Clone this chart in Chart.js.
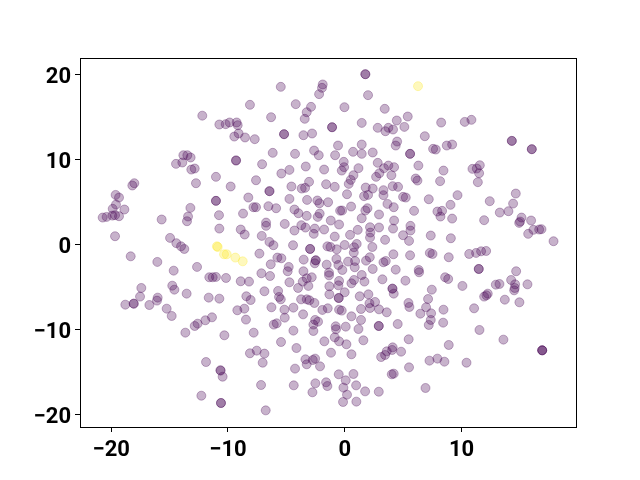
<!DOCTYPE html>
<html>
<head>
<meta charset="utf-8">
<script src="https://cdn.jsdelivr.net/npm/chart.js@4"></script>
<style>
  html, body { margin: 0; padding: 0; background: #fff; }
  canvas { display: block; }
</style>
</head>
<body>
<canvas id="tsne" width="640" height="480"></canvas>
<script>
// values, [x, y]. Repeats are the darker spots.
var purplePoints = [
  [-12.2,15.2],[-10.74,14.16],[-10.2,14.2],[-9.86,14.4],[-9.26,14.4],[-9.17,14.08],[-9.09,13.1],[-9.46,12.74],[-8.54,12.63],[-8.12,16.48],
  [-9.31,9.92],[-9.31,9.92],[-13.82,10.54],[-13.48,10.54],[-13.2,10.27],[-14.45,9.52],[-13.91,9.68],[-13.14,8.85],[-12.85,8.97],[-12.74,7.24],
  [-11.03,7.99],[-9.77,6.85],[-18.02,7.24],[-18.19,6.97],[-19.62,5.86],[-19.33,5.55],[-19.59,4.72],[-19.87,4.22],[-18.87,4.14],[-20.73,3.19],
  [-20.39,3.27],[-19.9,3.42],[-19.67,3.47],[-19.33,3.35],[-19.67,0.99],[-15.68,2.96],[-13.22,4.33],[-13.42,3.31],[-13.51,2.76],[-11.03,5.16],
  [-11.03,5.16],[-10.77,3.47],[-10.74,1.89],[-8.71,3.66],[-8.26,5.55],[-8.91,1.78],[-8.57,1.19],[-14.96,0.79],[-14.42,0.17],
  [-14.02,-0.2],[-13.74,-0.51],[-18.33,-1.38],[-16.05,-2.04],[-14.65,-3.07],[-12.65,-2.63],[-11.6,-3.85],[-11.31,-3.85],[-11.03,-3.81],[-10.17,-3.93],
  [-8.91,-4.32],[-8.2,-4.36],[-14.77,-4.84],[-14.59,-5.31],[-17.42,-5.11],[-13.54,-5.78],[-17.53,-6.13],[-16.02,-6.25],[-16.08,-6.6],[-11.65,-6.25],
  [-10.74,-6.37],[-8.43,-6.09],[-8.06,-6.53],[-18.79,-7.08],[-18.07,-6.96],[-18.07,-6.96],[-16.73,-7.12],[-15.25,-7.55],[-14.82,-8.41],[-9.2,-7.74],
  [-8.6,-7.55],[-8.46,-8.84],[-11.94,-8.92],[-11.37,-8.57],[-12.6,-9.32],[-12.85,-9.59],[-13.65,-10.38],[-10.31,-10.69],[-8.12,-12.81],[-11.88,-13.84],
  [-10.63,-14.86],[-10.65,-14.8],[-10.46,-15.57],[-12.28,-17.81],[-10.6,-18.67],[-10.6,-18.67],
  [1.76,20.09],[1.76,20.09],[-5.48,18.6],[-1.89,18.88],[-1.95,18.48],[-2.2,17.74],[1.99,17.62],[-4.2,16.56],[-2.89,16.24],[-3.26,15.61],
  [-3.43,14.83],[-0.03,16.2],[3.42,16.01],[-6.31,15.02],[5.39,15.1],[4.45,14.63],[1.45,14.35],[-1.09,13.84],[-1.09,13.84],[2.82,13.77],
  [5.1,13.88],[3.73,13.77],[4.13,13.57],[3.48,13.37],[-5.2,13.02],[-5.2,13.02],[-3.54,12.9],[-2.8,13.1],[-7.71,12.43],[4.48,12.15],
  [4.36,11.68],[-0.58,11.68],[1.45,11.8],[-6.17,10.82],[-4.26,10.7],[-2.63,11.09],[-2.23,10.54],[-0.83,10.54],[0.71,10.94],[1.45,10.7],
  [2.39,10.86],[5.59,10.7],[5.59,10.7],[-7.08,9.48],[-0.09,9.76],[-0.06,9.13],[-0.26,8.73],[1.17,9.01],[2.82,9.64],[-3.34,9.21],
  [-1.77,8.85],[-4.74,8.81],[-5.43,8.38],[3.73,9.32],[4.22,9.13],[3.36,9.01],[2.96,8.42],[2.68,7.99],[3.99,8.18],[6.3,9.32],
  [0.74,8.18],[0.51,7.63],[0.34,7.16],[-7.6,7.59],[-3.06,7.4],[-4.57,6.85],[-3.69,6.61],[-3.4,6.69],[-1.6,7.12],[-0.86,6.81],
  [1.79,6.73],[2.39,6.61],[4.1,6.89],[4.56,6.81],[3.31,6.42],[6.07,7.79],[6.22,7.55],[-6.45,6.3],[-6.45,6.3],[0.19,5.94],
  [1.65,5.71],[1.99,5.86],[3.31,5.83],[4.99,5.63],[5.22,5.55],[-4.74,5.39],[-3.23,5.27],[-2.35,5.2],[-2.17,4.88],[-1.43,5.0],
  [-7.82,4.41],[-7.6,4.41],[-6.54,4.53],[-5.88,4.29],[-4.31,4.14],[-3.97,3.7],[-3.26,3.39],[0.54,4.49],[3.65,4.8],[4.19,4.41],
  [5.93,3.98],[-0.4,4.0],[-0.23,4.02],[1.94,4.29],[1.76,4.02],[2.93,3.55],[-2.15,3.66],[-2.32,3.27],[1.45,3.11],[-1.2,2.84],
  [-0.49,2.37],[4.22,2.84],[-6.74,2.6],[-6.74,2.21],[-5.14,2.44],[-3.72,2.29],[-3.37,2.01],[-2.57,1.89],[-2.66,1.27],[-1.77,1.78],
  [-4.31,1.66],[-7.11,1.03],[-0.86,0.95],[0.45,1.15],[1.11,1.74],[2.16,2.05],[2.19,1.42],[2.16,0.83],[2.93,2.02],[4.13,1.89],
  [5.62,2.21],[5.62,1.66],[4.99,1.11],[5.5,0.44],[3.45,0.56],[-6.45,0.32],[-6.11,-0.07],[-4.43,-0.07],
  [-2.97,-0.51],[-2.97,-0.51],[-1.49,-0.2],[-1.23,-0.28],[-0.69,-0.55],[-0.01,-0.04],[0.79,-0.31],[1.02,0.08],[0.77,-0.94],[2.36,-0.28],
  [-7.31,-1.06],[-5.77,-1.53],[-5.43,-1.61],[-3.52,-1.77],[-2.49,-1.85],[-2.49,-1.85],[-2.57,-2.2],[-0.72,-1.69],[0.88,-1.93],[0.28,-2.0],
  [1.82,-1.89],[2.14,-1.49],[4.16,-1.14],[5.59,-1.26],[3.31,-2.08],[3.51,-1.93],[-6.34,-2.32],[-4.8,-2.63],[-4.89,-3.14],[-1.55,-2.36],
  [-0.55,-2.4],[-0.21,-2.99],[0.85,-2.67],[2.39,-2.87],[4.36,-2.95],[-7.14,-3.38],[-6.4,-3.7],[-3.54,-3.14],[-1.35,-3.3],[-1.35,-3.62],
  [1.45,-3.58],[0.79,-4.17],[0.57,-4.56],[1.68,-4.36],[3.22,-4.09],[5.19,-4.25],[6.33,-2.99],[6.36,-3.26],[-2.83,-3.85],[-3.26,-3.97],
  [-3.6,-4.36],[-4.0,-5.11],[-4.74,-4.44],[-3.12,-4.87],[-0.49,-4.28],[-0.55,-4.8],[-1.32,-4.91],[-1.32,-5.86],[-0.01,-5.62],[-6.88,-5.5],
  [-5.71,-5.46],[-5.63,-6.17],[-5.48,-6.45],[4.08,-5.19],[4.08,-5.19],[4.19,-5.78],[1.28,-6.09],[2.02,-5.86],[-0.52,-6.29],[-0.52,-6.29],
  [-3.74,-6.45],[-3.26,-6.45],[-3.03,-6.56],[-2.6,-6.88],[2.59,-6.76],[2.11,-6.92],[2.16,-7.47],[2.93,-7.63],[1.39,-7.59],[3.59,-7.98],
  [5.45,-6.88],[5.53,-7.35],[-6.28,-7.39],[-4.4,-7.43],[-5.17,-7.67],[-5.14,-8.61],[-3.57,-8.22],[-1.92,-7.7],[-1.46,-7.51],[-0.49,-7.67],
  [-0.26,-7.78],[0.57,-8.45],[1.39,-8.88],[6.47,-8.14],[4.53,-9.36],[2.91,-9.59],[2.91,-9.59],[0.08,-9.67],[1.17,-9.95],[-0.78,-9.63],
  [-0.75,-9.98],[-2.54,-8.88],[-2.29,-9.08],[-2.69,-9.43],[-2.69,-10.18],[-6.08,-9.43],[-5.83,-9.28],[-4.4,-10.14],[-7.8,-10.38],[-5.46,-11.48],
  [-0.86,-10.93],[-0.49,-11.4],[0.14,-11.75],[-1.75,-11.4],[1.59,-11.28],[5.47,-11.16],[-4.14,-12.19],[-1.18,-12.74],[0.57,-12.93],[-7.54,-12.5],
  [-6.88,-12.85],[-7.03,-13.92],[4.1,-12.11],[4.05,-12.42],[3.59,-12.58],[3.45,-13.01],[3.11,-13.25],[4.82,-12.62],[-3.37,-13.52],[-2.54,-13.44],
  [-2.74,-13.6],[-3.26,-14.11],[-2.12,-14.35],[-4.26,-14.62],[5.5,-14.47],[4.02,-15.29],[4.19,-15.21],[-0.52,-15.29],[0.74,-15.25],[0.08,-16.0],
  [-1.6,-16.23],[-1.49,-16.67],[-2.52,-16.35],[-2.77,-17.41],[-4.37,-16.59],[-7.17,-16.55],[-0.12,-16.86],[0.97,-16.59],[1.74,-17.3],[2.91,-17.34],
  [0.19,-17.69],[-0.15,-18.55],[0.99,-18.51],[-6.77,-19.54],
  [8.25,14.39],[10.27,14.47],[10.84,14.71],[6.85,12.78],[14.3,12.23],[14.3,12.23],[16.01,11.25],[16.01,11.25],[7.56,11.29],[7.79,11.21],
  [8.73,11.68],[9.19,11.8],[8.45,8.73],[8.16,7.48],[10.93,8.93],[11.3,8.97],[11.56,9.36],[11.5,8.42],[11.39,7.36],[7.19,5.35],
  [9.65,5.83],[9.05,4.69],[7.93,3.9],[8.33,3.98],[8.19,3.31],[9.19,3.07],[12.41,5.12],[14.64,6.02],[14.41,4.84],[13.27,3.78],
  [14.01,3.94],[11.93,2.88],[15.13,3.19],[14.93,2.56],[15.01,2.72],[15.95,2.84],[15.7,1.27],[16.15,1.74],[16.64,1.78],[16.84,1.82],
  [17.87,0.4],[7.36,1.07],[9.08,0.75],
  [7.28,-0.98],[7.51,-1.1],[8.9,-1.49],[10.65,-1.1],[11.24,-0.98],[11.67,-0.79],[12.1,-0.75],[11.47,-2.87],[11.47,-2.87],[14.67,-3.14],
  [14.24,-4.17],[12.93,-4.72],[13.24,-4.64],[14.58,-4.68],[14.55,-5.11],[14.5,-5.39],[15.64,-4.68],[8.59,-3.85],[8.85,-4.05],[10.07,-4.87],
  [7.45,-5.31],[7.13,-6.41],[6.96,-7.39],[7.39,-8.1],[7.36,-8.88],[7.19,-9.47],[8.45,-7.67],[8.42,-9.2],[11.07,-7.51],[11.93,-6.13],
  [12.24,-5.78],[12.13,-5.98],[13.7,-6.49],[14.95,-6.8],[11.53,-10.06],[13.58,-11.2],[8.9,-11.83],[16.9,-12.46],[16.9,-12.46],[16.9,-12.46],
  [7.25,-13.68],[7.93,-13.44],[8.53,-13.8],[10.42,-13.92],[6.91,-16.9]
];
var yellowPoints = [
  [6.27,18.68],[-10.95,-0.2],[-10.88,-0.28],[-10.34,-1.14],[-10.11,-1.14],[-9.37,-1.53],[-8.74,-1.97]
];
var xTicks = [-20, -10, 0, 10];
var yTicks = [-20, -10, 0, 10, 20];

function toXY(p) {
  return { x: p[0], y: p[1] };
}

// matplotlib style minus sign on tick labels
function tickText(v) {
  return String(v).replace('-', '\u2212');
}

// box around the plot
var frame = {
  id: 'frame',
  afterDraw: function (chart) {
    var a = chart.chartArea, c = chart.ctx;
    c.save();
    c.strokeStyle = '#000';
    c.lineWidth = 1;
    c.strokeRect(a.left + 0.5, a.top + 0.5, a.right - a.left - 1, a.bottom - a.top);
    c.restore();
  }
};

var tickFont = { family: 'Roboto', size: 22, weight: 'bold' };

var ctx = document.getElementById('tsne').getContext('2d');
var chart = new Chart(ctx, {
  type: 'scatter',
  data: {
    datasets: [{
      data: purplePoints.map(toXY),
      backgroundColor: 'rgba(68,1,84,0.3)',
      borderColor: 'rgba(68,1,84,0.3)',
      borderWidth: 1,
      pointRadius: 4.5
    }, {
      data: yellowPoints.map(toXY),
      backgroundColor: 'rgba(253,231,37,0.3)',
      borderColor: 'rgba(253,231,37,0.3)',
      borderWidth: 1,
      pointRadius: 4.5
    }]
  },
  options: {
    responsive: false,
    animation: false,
    layout: { padding: { top: 58, right: 63, left: 0, bottom: 0 } },
    plugins: { legend: { display: false }, tooltip: { enabled: false } },
    scales: {
      x: {
        type: 'linear',
        min: -22.67,
        max: 19.88,
        afterFit: function (s) { s.height = 53; },
        afterBuildTicks: function (s) { s.ticks = xTicks.map(function (v) { return { value: v }; }); },
        grid: { drawOnChartArea: false, color: '#000', tickLength: 5 },
        border: { display: false },
        ticks: { color: '#000', font: tickFont, padding: 5, maxRotation: 0, callback: tickText }
      },
      y: {
        type: 'linear',
        min: -21.5,
        max: 22,
        afterFit: function (s) { s.width = 80; },
        afterBuildTicks: function (s) { s.ticks = yTicks.map(function (v) { return { value: v }; }); },
        grid: { drawOnChartArea: false, color: '#000', tickLength: 5 },
        border: { display: false },
        ticks: { color: '#000', font: tickFont, padding: 4, labelOffset: 3, callback: tickText }
      }
    }
  },
  plugins: [frame]
});
</script>
</body>
</html>
